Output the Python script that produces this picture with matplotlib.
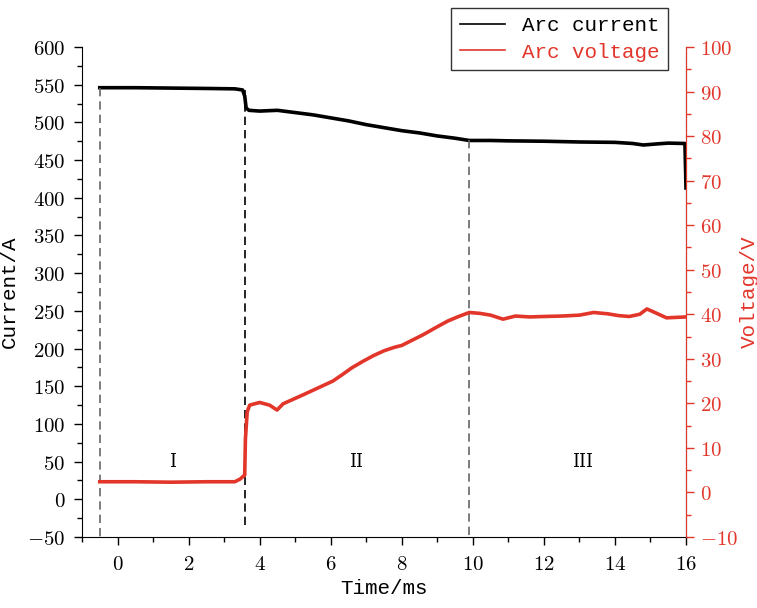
import numpy as np
import matplotlib.pyplot as plt
from matplotlib.ticker import MultipleLocator, FuncFormatter

plt.rcParams['mathtext.fontset'] = 'cm'

# arc current (A) vs time (ms)
t_cur = [-0.5, 0.5, 1.5, 2.5, 3.3, 3.52, 3.58, 3.62, 3.7, 4.0, 4.5, 5.0, 5.5,
         6.0, 6.5, 7.0, 7.5, 8.0, 8.5, 9.0, 9.5, 9.9, 10.5, 11.0, 12.0, 13.0,
         14.0, 14.5, 14.8, 15.2, 15.5, 15.97, 16.0]
current = [546, 546, 545.5, 545, 544.5, 543, 535, 519, 516, 515, 516, 513, 510,
           506, 502, 497, 493, 489, 486, 482, 479, 476, 476, 475.5, 475, 474,
           473.5, 472, 470, 471.5, 472.5, 472, 413]

# arc voltage (V) vs time (ms)
t_vol = [-0.5, 0.5, 1.5, 2.5, 3.3, 3.45, 3.58, 3.6, 3.65, 3.72, 4.0, 4.28, 4.49,
         4.66, 5.22, 5.6, 6.06, 6.3, 6.6, 6.9, 7.2, 7.5, 7.8, 8.0, 8.3, 8.6,
         9.0, 9.3, 9.6, 9.9, 10.2, 10.5, 10.85, 11.2, 11.6, 12.0, 12.5, 13.0,
         13.4, 13.8, 14.1, 14.4, 14.7, 14.9, 15.15, 15.45, 16.0]
voltage = [2.4, 2.4, 2.3, 2.4, 2.4, 3.0, 3.9, 12.0, 18.1, 19.6, 20.2, 19.6, 18.5,
           19.9, 21.9, 23.3, 25.0, 26.3, 28.0, 29.4, 30.7, 31.8, 32.6, 33.0,
           34.2, 35.4, 37.2, 38.5, 39.5, 40.4, 40.2, 39.8, 38.9, 39.6, 39.4,
           39.5, 39.6, 39.8, 40.4, 40.1, 39.7, 39.5, 40.0, 41.2, 40.3, 39.2, 39.4]

stage_lines = [-0.48, 3.6, 9.9]
stage_labels = ['I', 'II', 'III']
stage_label_x = [1.55, 6.7, 13.1]

red = '#e2362b'
mono = 'Liberation Mono'

fig = plt.figure(figsize=(7.57, 6.08), dpi=100)
ax = fig.add_axes([0.1083, 0.1168, 0.7979, 0.8059])
ax2 = ax.twinx()

l1, = ax.plot(t_cur, current, color='black', lw=2.6, label='Arc current')
l2, = ax2.plot(t_vol, voltage, color=red, lw=2.6, label='Arc voltage')

# stage separators
ax.plot([stage_lines[0]] * 2, [546, -50], ls=(0, (5, 3)), color='#666666', lw=1.2)
ax.plot([stage_lines[1]] * 2, [543, -40], ls=(0, (5, 3)), color='black', lw=1.2)
ax.plot([stage_lines[2]] * 2, [476, -50], ls=(0, (5, 3)), color='#666666', lw=1.2)
for x, s in zip(stage_label_x, stage_labels):
    ax.text(x, 50, s, ha='center', va='center', fontsize=13, family='DejaVu Serif')

ax.set_xlim(-1, 16)
ax.set_ylim(-50, 600)
ax2.set_ylim(-10, 100)

fmt = FuncFormatter(lambda v, p: r'$\mathrm{%d}$' % round(v))
ax.xaxis.set_major_locator(MultipleLocator(2))
ax.xaxis.set_minor_locator(MultipleLocator(1))
ax.yaxis.set_major_locator(MultipleLocator(50))
ax.yaxis.set_minor_locator(MultipleLocator(25))
ax2.yaxis.set_major_locator(MultipleLocator(10))
ax2.yaxis.set_minor_locator(MultipleLocator(5))
for a in (ax.xaxis, ax.yaxis, ax2.yaxis):
    a.set_major_formatter(fmt)

ax.tick_params(which='major', length=6, width=1, labelsize=15, pad=6)
ax.tick_params(which='minor', length=3.5, width=1)
ax2.tick_params(which='major', length=6, width=1, labelsize=15, colors=red, pad=4)
ax2.tick_params(which='minor', length=3.5, width=1, colors=red)

for a in (ax, ax2):
    a.spines['top'].set_visible(False)
ax2.spines['right'].set_color(red)
ax2.spines['left'].set_visible(False)
ax2.spines['bottom'].set_visible(False)

ax.set_xlabel('Time/ms', family=mono, fontsize=15, labelpad=4)
ax.set_ylabel('Current/A', family=mono, fontsize=15, labelpad=6)
ax2.set_ylabel('Voltage/V', family=mono, fontsize=15, color=red, labelpad=1)

leg = fig.legend(handles=[l1, l2], loc='upper right',
                 bbox_to_anchor=(0.8824, 0.9868), bbox_transform=fig.transFigure,
                 prop={'family': mono, 'size': 15}, frameon=True, fancybox=False,
                 handlelength=2.2, handletextpad=0.8, borderpad=0.4,
                 labelspacing=0.35, borderaxespad=0)
leg.get_frame().set_edgecolor('black')
leg.get_frame().set_linewidth(1)
for h in leg.get_lines():
    h.set_linewidth(1.2)
leg.get_texts()[1].set_color(red)

fig.savefig('out.png', dpi=100)
